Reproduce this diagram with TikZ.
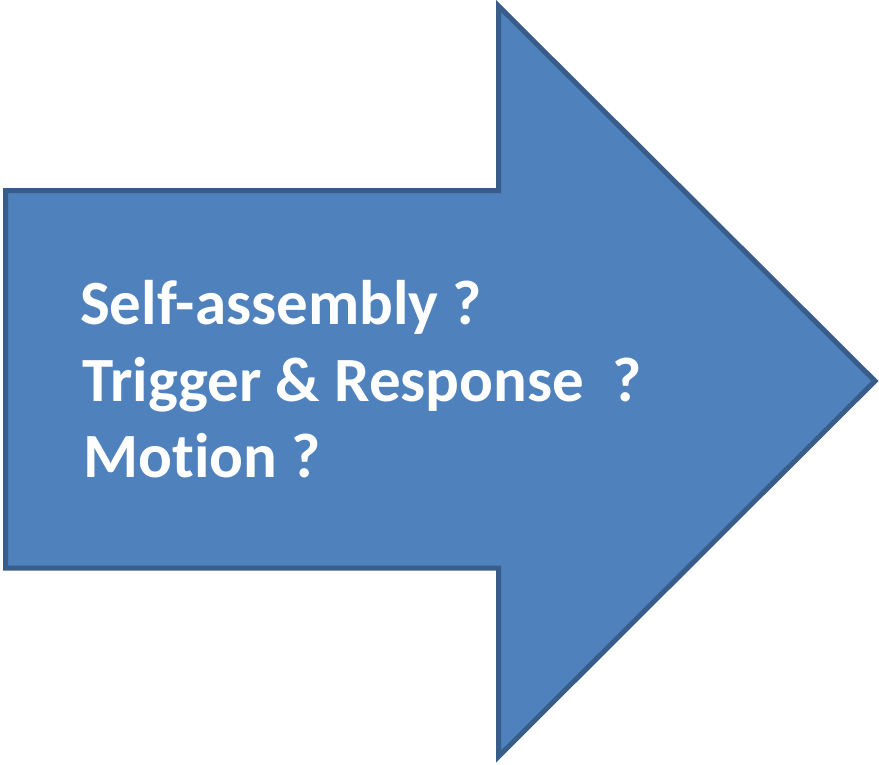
\documentclass[tikz,border=0pt]{standalone}
\usepackage{fontspec}
\setmainfont{Carlito}[Ligatures=NoCommon]
\usepackage{tikz}

\definecolor{arrowfill}{HTML}{4F81BD}
\definecolor{arrowline}{HTML}{385D8A}

\begin{document}
\begin{tikzpicture}[
		x=1pt, y=-1pt,
		bigarrow/.style={fill=arrowfill, draw=arrowline, line width=5pt, line join=miter},
		every node/.style={anchor=base west, inner sep=0pt, text=white,
			font=\fontsize{63}{75}\selectfont\bfseries}]

		\useasboundingbox (0,0) rectangle (879,764);

		% block arrow pointing right
		\draw[bigarrow] (5.5,190.5) -- (498.5,190.5) -- (498.5,6) -- (875,381)
			-- (498.5,756.5) -- (498.5,568) -- (5.5,568) -- cycle;

		\node (self)    at (80,324) {Self-assembly ?};
		\node (trigger) at (82,401) {Trigger \& Response\ \ ?};
		\node (motion)  at (83,477) {Motion ?};

\end{tikzpicture}
\end{document}
